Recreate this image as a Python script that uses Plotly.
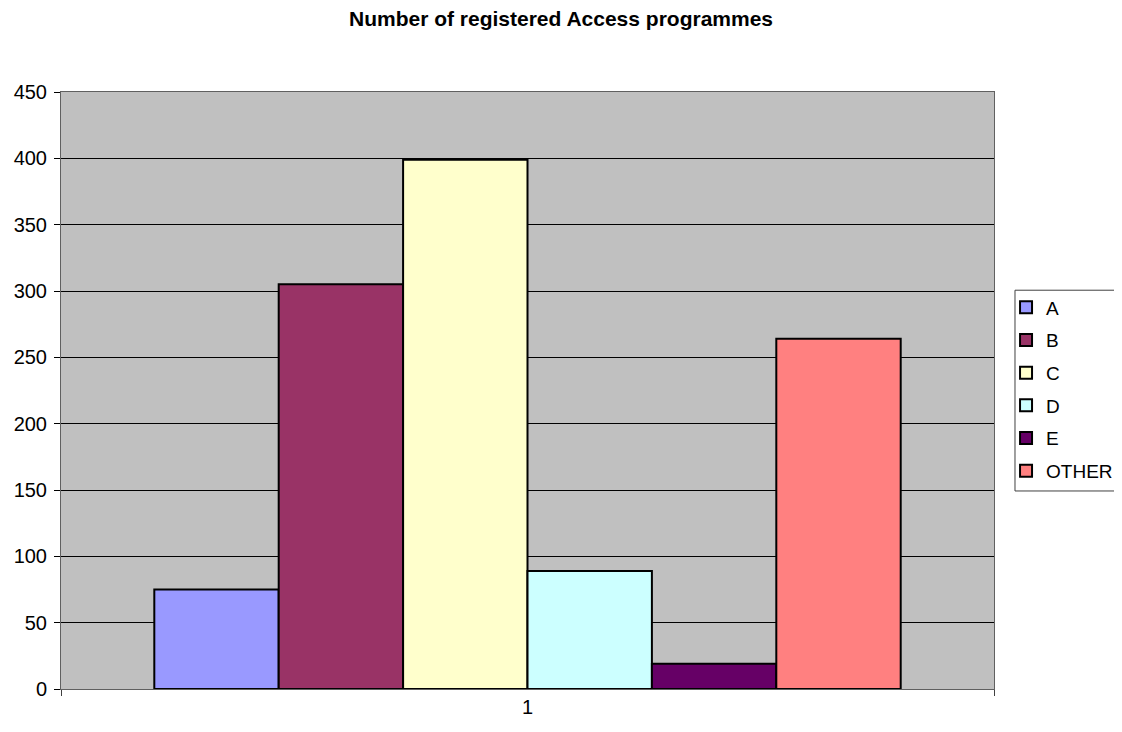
import plotly.graph_objects as go

categories = ["1"]
series_names = ["A", "B", "C", "D", "E", "OTHER"]
series_values = [75, 305, 399, 89, 19, 264]
series_colors = ["#9999FF", "#993366", "#FFFFCC", "#CCFFFF", "#660066", "#FF8080"]
y_ticks = [0, 50, 100, 150, 200, 250, 300, 350, 400, 450]

fig = go.Figure()
for name, val, col in zip(series_names, series_values, series_colors):
    fig.add_trace(go.Bar(
        x=categories, y=[val], name=name, legendgroup=name,
        marker=dict(color=col, line=dict(color="black", width=2)),
    ))

# legend frame drawn as a shape so the entries can sit a little further left
fig.add_shape(
    type="rect", xref="paper", yref="paper",
    x0=1.0225, x1=1.15, y0=0.3317, y1=0.668,
    line=dict(color="#404040", width=1), fillcolor="white", layer="below",
)

fig.update_layout(
    width=1114, height=724,
    margin=dict(l=53, r=128, t=84, b=43, autoexpand=False),
    paper_bgcolor="white",
    plot_bgcolor="#C0C0C0",
    barmode="group",
    bargap=0.2,
    bargroupgap=0,
    font=dict(family="Liberation Sans, Arial, sans-serif", size=20, color="black"),
    title=dict(
        text="<b>Number of registered Access programmes</b>",
        x=553 / 1114, xanchor="center", xref="container", y=1 - 11 / 724, yanchor="middle",
        font=dict(size=21, color="black"),
    ),
    legend=dict(
        x=1.0129, xanchor="left", y=0.671, yanchor="top",
        borderwidth=0,
        bgcolor="rgba(0,0,0,0)",
        font=dict(size=19),
        itemwidth=30,
        tracegroupgap=5,
    ),
    showlegend=True,
)
fig.update_xaxes(
    type="category",
    showline=True, linecolor="#606060", linewidth=1, mirror=True,
    ticks="outside", tickson="boundaries", ticklen=6, tickcolor="#404040",
    showgrid=False,
)
fig.update_yaxes(
    range=[0, 450], tickvals=y_ticks,
    showgrid=True, gridcolor="black", gridwidth=1,
    showline=True, linecolor="#606060", linewidth=1, mirror=True,
    ticks="outside", ticklen=6, tickcolor="black",
    ticklabelstandoff=3,
    zeroline=False,
)

fig.write_html("out.html")
